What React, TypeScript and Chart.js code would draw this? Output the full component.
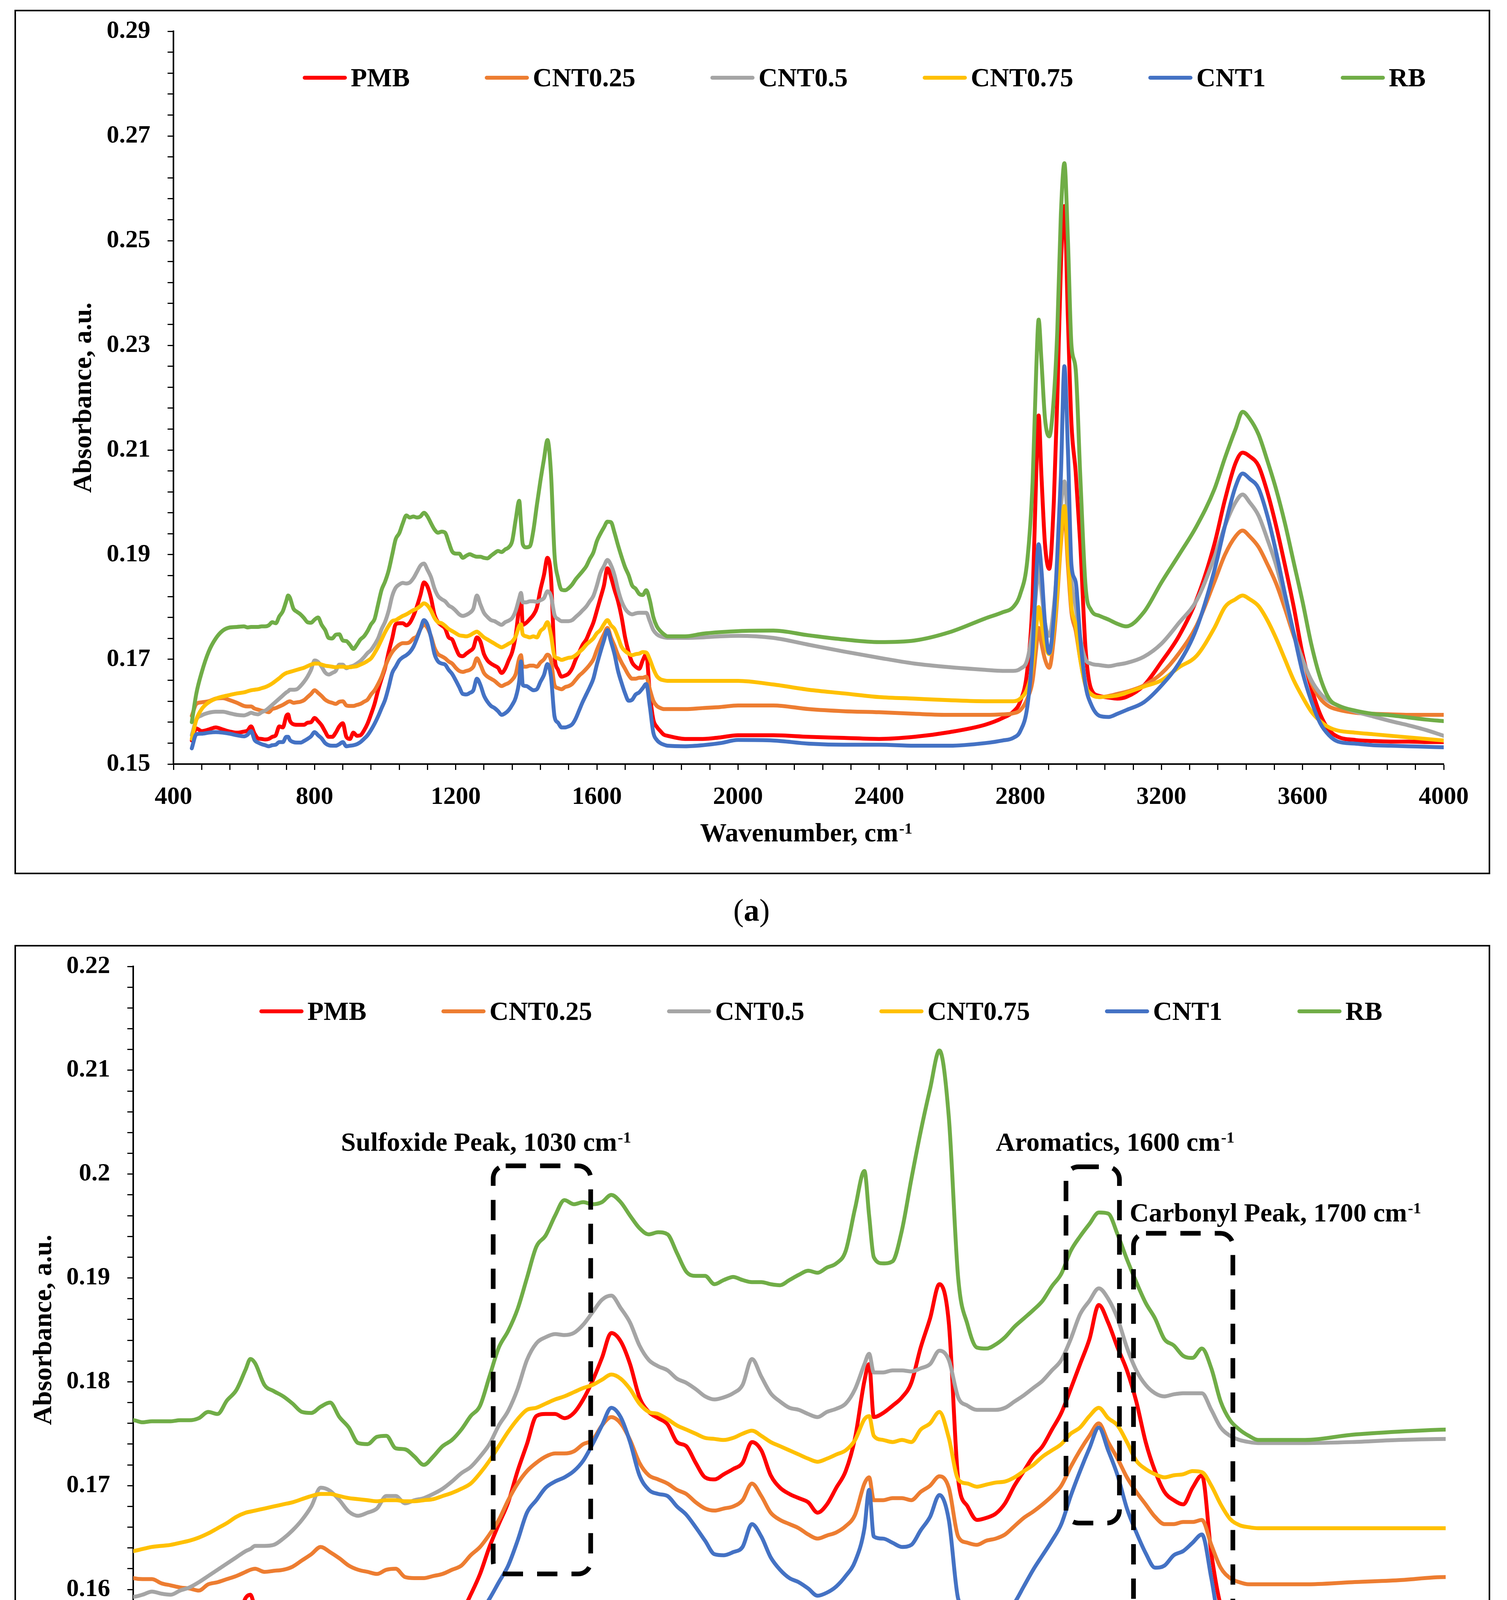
import { useEffect, useRef } from "react";
import { Chart, registerables } from "chart.js";

Chart.register(...registerables);

const SERIF = "'Liberation Serif', 'Times New Roman', serif";

// shared wavenumber grid, cm-1
const wavenumbers = [
  452, 465, 480, 500, 520, 540, 560, 580,
  600, 610, 620, 630, 640, 650, 660, 670, 680, 690,
  700, 710, 720, 725, 730, 740, 750, 760, 770, 780, 790,
  800, 810, 820, 830, 840, 850, 860, 870, 880, 890,
  900, 910, 920, 930, 940, 950, 960, 970, 980, 990,
  1000, 1010, 1020, 1030, 1040, 1050, 1060, 1070, 1080, 1090,
  1100, 1110, 1120, 1130, 1140, 1150, 1160, 1170, 1180, 1190,
  1200, 1210, 1220, 1230, 1240, 1250, 1260, 1270, 1280, 1290,
  1300, 1310, 1320, 1330, 1340, 1350, 1360, 1370, 1380, 1385, 1390,
  1400, 1410, 1420, 1430, 1440, 1450, 1460, 1470, 1480, 1490,
  1500, 1510, 1520, 1530, 1540, 1550, 1560, 1570, 1580, 1590,
  1600, 1610, 1620, 1630, 1640, 1650, 1660, 1670, 1680, 1690,
  1700, 1710, 1720, 1730, 1740, 1750, 1760, 1770, 1780, 1790,
  1800, 1850, 1900, 1950, 2000,
  2100, 2200, 2300, 2400, 2500, 2600, 2700, 2750, 2780,
  2800, 2820, 2835, 2845, 2852, 2860, 2870, 2882, 2895,
  2905, 2915, 2925, 2935, 2945, 2957, 2970, 2985,
  3000, 3025, 3050, 3075, 3100, 3150, 3200, 3250, 3300, 3350, 3380,
  3410, 3430, 3450, 3475, 3500, 3525, 3550, 3575, 3600,
  3625, 3650, 3675, 3700, 3750, 3800, 3850, 3900, 3950, 4000,
];

const pmb = [
  0.1545, 0.1568, 0.1563, 0.1566, 0.1570, 0.1566, 0.1562, 0.1560,
  0.1562, 0.1564, 0.1572, 0.1558, 0.1549, 0.1548, 0.1547, 0.1548, 0.1552, 0.1555,
  0.1572, 0.1570, 0.1592, 0.1595, 0.1583, 0.1576, 0.1575, 0.1575, 0.1575, 0.1579, 0.1580,
  0.1588, 0.1582, 0.1574, 0.1562, 0.1552, 0.1552, 0.1560, 0.1572, 0.1578, 0.1552,
  0.1548, 0.1560, 0.1554, 0.1555, 0.1564, 0.1577, 0.1595, 0.1615, 0.1641, 0.1663,
  0.1684, 0.1714, 0.1740, 0.1767, 0.1769, 0.1769, 0.1765, 0.1770, 0.1783, 0.1801,
  0.1823, 0.1847, 0.1839, 0.1817, 0.1785, 0.1771, 0.1765, 0.1759, 0.1742, 0.1738,
  0.1722, 0.1708, 0.1706, 0.1711, 0.1716, 0.1722, 0.1742, 0.1734, 0.1710, 0.1698,
  0.1692, 0.1688, 0.1684, 0.1674, 0.1682, 0.1698, 0.1714, 0.1746, 0.1801, 0.1817, 0.1766,
  0.1770, 0.1777, 0.1785, 0.1799, 0.1833, 0.1861, 0.1894, 0.1857, 0.1706, 0.1680,
  0.1667, 0.1669, 0.1673, 0.1683, 0.1700, 0.1714, 0.1728, 0.1738, 0.1754, 0.1770,
  0.1793, 0.1817, 0.1841, 0.1874, 0.1857, 0.1833, 0.1811, 0.1781, 0.1742, 0.1714,
  0.1694, 0.1686, 0.1682, 0.1698, 0.1710, 0.1635, 0.1585, 0.1571, 0.1563, 0.1556,
  0.1554, 0.1548, 0.1548, 0.1551, 0.1555,
  0.1555, 0.1552, 0.1550, 0.1548, 0.1552, 0.1561, 0.1575, 0.1588, 0.1600,
  0.1620, 0.1680, 0.1820, 0.2050, 0.2166, 0.2050, 0.1920, 0.1873, 0.2000,
  0.2200, 0.2450, 0.2566, 0.2350, 0.2150, 0.2058, 0.1920, 0.1720,
  0.1645, 0.1630, 0.1627, 0.1625, 0.1628, 0.1650, 0.1695, 0.1745, 0.1815, 0.1920, 0.2005,
  0.2075, 0.2095, 0.2088, 0.2070, 0.2020, 0.1955, 0.1880, 0.1800, 0.1710,
  0.1645, 0.1595, 0.1565, 0.1552, 0.1546, 0.1544, 0.1543, 0.1543, 0.1542, 0.1542,
];

const cnt025 = [
  0.1592, 0.1615, 0.1618, 0.1620, 0.1625, 0.1626, 0.1622, 0.1617,
  0.1611, 0.1610, 0.1610, 0.1606, 0.1604, 0.1602, 0.1601, 0.1599, 0.1605, 0.1607,
  0.1610, 0.1613, 0.1617, 0.1619, 0.1620, 0.1617, 0.1618, 0.1619, 0.1622, 0.1628, 0.1634,
  0.1641, 0.1636, 0.1630, 0.1623, 0.1619, 0.1617, 0.1615, 0.1619, 0.1620, 0.1612,
  0.1611, 0.1611, 0.1613, 0.1615, 0.1619, 0.1623, 0.1633, 0.1641, 0.1653, 0.1667,
  0.1686, 0.1702, 0.1714, 0.1722, 0.1728, 0.1731, 0.1731, 0.1733, 0.1740, 0.1744,
  0.1758, 0.1766, 0.1760, 0.1744, 0.1722, 0.1710, 0.1706, 0.1702, 0.1696, 0.1692,
  0.1684, 0.1678, 0.1676, 0.1678, 0.1680, 0.1686, 0.1702, 0.1690, 0.1674, 0.1667,
  0.1663, 0.1659, 0.1653, 0.1649, 0.1652, 0.1655, 0.1661, 0.1672, 0.1702, 0.1708, 0.1686,
  0.1686, 0.1688, 0.1688, 0.1686, 0.1694, 0.1700, 0.1709, 0.1698, 0.1651, 0.1645,
  0.1643, 0.1647, 0.1649, 0.1653, 0.1661, 0.1669, 0.1675, 0.1682, 0.1690, 0.1700,
  0.1718, 0.1734, 0.1748, 0.1760, 0.1742, 0.1726, 0.1708, 0.1694, 0.1682, 0.1670,
  0.1663, 0.1663, 0.1665, 0.1665, 0.1667, 0.1643, 0.1621, 0.1611, 0.1607, 0.1605,
  0.1605, 0.1605, 0.1607, 0.1609, 0.1612,
  0.1612, 0.1605, 0.1601, 0.1599, 0.1596, 0.1594, 0.1594, 0.1595, 0.1597,
  0.1603, 0.1625, 0.1660, 0.1720, 0.1760, 0.1730, 0.1700, 0.1684, 0.1740,
  0.1820, 0.1920, 0.1980, 0.1880, 0.1790, 0.1755, 0.1700, 0.1650,
  0.1634, 0.1628, 0.1630, 0.1634, 0.1638, 0.1650, 0.1673, 0.1712, 0.1765, 0.1848, 0.1900,
  0.1935, 0.1946, 0.1935, 0.1915, 0.1882, 0.1845, 0.1797, 0.1745, 0.1700,
  0.1655, 0.1625, 0.1610, 0.1604, 0.1598, 0.1596, 0.1595, 0.1594, 0.1594, 0.1594,
];

const cnt05 = [
  0.1555, 0.1585, 0.1593, 0.1598, 0.1600, 0.1600, 0.1597, 0.1594,
  0.1593, 0.1595, 0.1598, 0.1596, 0.1595, 0.1599, 0.1602, 0.1607, 0.1613, 0.1619,
  0.1625, 0.1631, 0.1637, 0.1639, 0.1642, 0.1642, 0.1643, 0.1649, 0.1657, 0.1667, 0.1680,
  0.1698, 0.1695, 0.1686, 0.1675, 0.1671, 0.1674, 0.1678, 0.1690, 0.1690, 0.1683,
  0.1686, 0.1688, 0.1692, 0.1697, 0.1704, 0.1712, 0.1718, 0.1728, 0.1740, 0.1758,
  0.1772, 0.1793, 0.1821, 0.1837, 0.1843, 0.1846, 0.1845, 0.1847, 0.1855, 0.1867,
  0.1879, 0.1883, 0.1871, 0.1857, 0.1835, 0.1821, 0.1815, 0.1811, 0.1803, 0.1799,
  0.1793, 0.1786, 0.1783, 0.1785, 0.1789, 0.1797, 0.1822, 0.1805, 0.1789, 0.1781,
  0.1775, 0.1773, 0.1769, 0.1766, 0.1771, 0.1774, 0.1779, 0.1793, 0.1817, 0.1827, 0.1809,
  0.1809, 0.1811, 0.1811, 0.1810, 0.1813, 0.1817, 0.1830, 0.1821, 0.1785, 0.1777,
  0.1773, 0.1773, 0.1773, 0.1775, 0.1781, 0.1787, 0.1794, 0.1801, 0.1811, 0.1821,
  0.1841, 0.1865, 0.1878, 0.1890, 0.1880, 0.1861, 0.1833, 0.1811, 0.1797, 0.1789,
  0.1786, 0.1788, 0.1789, 0.1789, 0.1789, 0.1773, 0.1756, 0.1748, 0.1744, 0.1742,
  0.1741, 0.1741, 0.1742, 0.1744, 0.1745,
  0.1741, 0.1728, 0.1715, 0.1703, 0.1692, 0.1685, 0.1680, 0.1678, 0.1678,
  0.1682, 0.1700, 0.1760, 0.1830, 0.1880, 0.1830, 0.1770, 0.1745, 0.1800,
  0.1880, 0.1990, 0.2040, 0.1960, 0.1850, 0.1800, 0.1740, 0.1700,
  0.1692, 0.1689, 0.1687, 0.1690, 0.1693, 0.1705, 0.1730, 0.1770, 0.1813, 0.1895, 0.1955,
  0.2000, 0.2015, 0.2000, 0.1975, 0.1930, 0.1880, 0.1815, 0.1750, 0.1700,
  0.1660, 0.1635, 0.1620, 0.1612, 0.1600, 0.1591, 0.1582, 0.1574, 0.1565, 0.1554,
];

const cnt075 = [
  0.1548, 0.1585, 0.1605, 0.1618, 0.1625, 0.1629, 0.1632, 0.1635,
  0.1637, 0.1639, 0.1641, 0.1642, 0.1643, 0.1645, 0.1647, 0.1650, 0.1654, 0.1659,
  0.1664, 0.1670, 0.1674, 0.1675, 0.1676, 0.1678, 0.1680, 0.1682, 0.1684, 0.1687, 0.1690,
  0.1692, 0.1692, 0.1690, 0.1688, 0.1687, 0.1686, 0.1685, 0.1686, 0.1686, 0.1685,
  0.1685, 0.1686, 0.1687, 0.1690, 0.1693, 0.1697, 0.1702, 0.1712, 0.1724, 0.1738,
  0.1752, 0.1764, 0.1773, 0.1775, 0.1779, 0.1783, 0.1786, 0.1790, 0.1794, 0.1797,
  0.1802, 0.1807, 0.1803, 0.1793, 0.1779, 0.1771, 0.1769, 0.1764, 0.1758, 0.1754,
  0.1750, 0.1746, 0.1745, 0.1744, 0.1746, 0.1750, 0.1753, 0.1748, 0.1742, 0.1738,
  0.1734, 0.1730, 0.1726, 0.1723, 0.1726, 0.1730, 0.1734, 0.1744, 0.1764, 0.1767, 0.1748,
  0.1744, 0.1742, 0.1744, 0.1742, 0.1754, 0.1760, 0.1771, 0.1746, 0.1706, 0.1702,
  0.1699, 0.1701, 0.1703, 0.1704, 0.1708, 0.1714, 0.1720, 0.1728, 0.1734, 0.1740,
  0.1750, 0.1756, 0.1767, 0.1775, 0.1765, 0.1758, 0.1742, 0.1724, 0.1716, 0.1711,
  0.1708, 0.1710, 0.1711, 0.1714, 0.1713, 0.1700, 0.1682, 0.1668, 0.1662, 0.1660,
  0.1659, 0.1659, 0.1659, 0.1659, 0.1659,
  0.1652, 0.1642, 0.1635, 0.1628, 0.1625, 0.1622, 0.1620, 0.1620, 0.1620,
  0.1625, 0.1645, 0.1690, 0.1760, 0.1800, 0.1770, 0.1730, 0.1710, 0.1760,
  0.1830, 0.1930, 0.1993, 0.1900, 0.1800, 0.1765, 0.1700, 0.1650,
  0.1634, 0.1628, 0.1629, 0.1631, 0.1636, 0.1648, 0.1660, 0.1685, 0.1707, 0.1760, 0.1800,
  0.1815, 0.1822, 0.1815, 0.1802, 0.1775, 0.1740, 0.1700, 0.1660, 0.1628,
  0.1600, 0.1582, 0.1570, 0.1564, 0.1560, 0.1557, 0.1554, 0.1551, 0.1548, 0.1545,
];

const cnt1 = [
  0.1530, 0.1557, 0.1558, 0.1560, 0.1561, 0.1560, 0.1558, 0.1555,
  0.1553, 0.1556, 0.1563, 0.1546, 0.1541, 0.1538, 0.1536, 0.1534, 0.1536, 0.1537,
  0.1542, 0.1542, 0.1552, 0.1552, 0.1546, 0.1542, 0.1541, 0.1541, 0.1544, 0.1548, 0.1553,
  0.1561, 0.1555, 0.1549, 0.1540, 0.1536, 0.1535, 0.1535, 0.1538, 0.1542, 0.1534,
  0.1535, 0.1536, 0.1538, 0.1542, 0.1548, 0.1555, 0.1565, 0.1577, 0.1591, 0.1607,
  0.1623, 0.1647, 0.1674, 0.1686, 0.1698, 0.1704, 0.1708, 0.1714, 0.1724, 0.1740,
  0.1758, 0.1775, 0.1766, 0.1742, 0.1710, 0.1696, 0.1692, 0.1690, 0.1680, 0.1672,
  0.1660, 0.1647, 0.1634, 0.1633, 0.1636, 0.1641, 0.1663, 0.1651, 0.1631, 0.1619,
  0.1611, 0.1607, 0.1601, 0.1594, 0.1597, 0.1603, 0.1613, 0.1627, 0.1659, 0.1696, 0.1651,
  0.1649, 0.1645, 0.1641, 0.1643, 0.1657, 0.1670, 0.1691, 0.1667, 0.1591, 0.1579,
  0.1570, 0.1570, 0.1572, 0.1576, 0.1587, 0.1603, 0.1619, 0.1633, 0.1647, 0.1663,
  0.1690, 0.1714, 0.1736, 0.1756, 0.1734, 0.1710, 0.1678, 0.1655, 0.1635, 0.1621,
  0.1623, 0.1633, 0.1637, 0.1645, 0.1653, 0.1611, 0.1560, 0.1546, 0.1540, 0.1537,
  0.1535, 0.1534, 0.1536, 0.1540, 0.1546,
  0.1545, 0.1539, 0.1537, 0.1537, 0.1535, 0.1535, 0.1540, 0.1545, 0.1550,
  0.1563, 0.1610, 0.1720, 0.1860, 0.1920, 0.1870, 0.1770, 0.1712, 0.1780,
  0.1900, 0.2050, 0.2260, 0.2100, 0.1880, 0.1848, 0.1740, 0.1650,
  0.1615, 0.1592, 0.1590, 0.1596, 0.1603, 0.1618, 0.1650, 0.1693, 0.1760, 0.1870, 0.1955,
  0.2030, 0.2055, 0.2045, 0.2027, 0.1975, 0.1905, 0.1825, 0.1750, 0.1675,
  0.1620, 0.1578, 0.1555, 0.1543, 0.1539, 0.1536, 0.1535, 0.1534, 0.1533, 0.1532,
];

const rb = [
  0.1580, 0.1635, 0.1675, 0.1715, 0.1740, 0.1755, 0.1761, 0.1762,
  0.1763, 0.1761, 0.1762, 0.1762, 0.1762, 0.1763, 0.1763, 0.1765, 0.1771, 0.1769,
  0.1782, 0.1792, 0.1812, 0.1822, 0.1818, 0.1797, 0.1791, 0.1786, 0.1779, 0.1771, 0.1770,
  0.1776, 0.1780, 0.1766, 0.1756, 0.1741, 0.1740, 0.1747, 0.1748, 0.1736, 0.1735,
  0.1728, 0.1720, 0.1728, 0.1738, 0.1744, 0.1754, 0.1767, 0.1777, 0.1805, 0.1833,
  0.1849, 0.1870, 0.1900, 0.1930, 0.1941, 0.1960, 0.1975, 0.1971, 0.1973, 0.1971,
  0.1973, 0.1980, 0.1973, 0.1960, 0.1948, 0.1942, 0.1944, 0.1942, 0.1924, 0.1906,
  0.1902, 0.1902, 0.1894, 0.1898, 0.1901, 0.1898, 0.1896, 0.1896, 0.1894, 0.1893,
  0.1898, 0.1903, 0.1907, 0.1905, 0.1910, 0.1914, 0.1926, 0.1967, 0.2003, 0.1960, 0.1920,
  0.1914, 0.1916, 0.1946, 0.1995, 0.2041, 0.2082, 0.2119, 0.2055, 0.1900, 0.1855,
  0.1833, 0.1832, 0.1836, 0.1843, 0.1853, 0.1861, 0.1869, 0.1878, 0.1892, 0.1904,
  0.1926, 0.1940, 0.1952, 0.1963, 0.1962, 0.1942, 0.1918, 0.1896, 0.1876, 0.1861,
  0.1841, 0.1835, 0.1825, 0.1823, 0.1832, 0.1813, 0.1781, 0.1763, 0.1754, 0.1748,
  0.1744, 0.1744, 0.1749, 0.1752, 0.1754,
  0.1755, 0.1746, 0.1738, 0.1733, 0.1736, 0.1752, 0.1778, 0.1790, 0.1800,
  0.1825, 0.1890, 0.2040, 0.2250, 0.2349, 0.2270, 0.2160, 0.2126, 0.2200,
  0.2330, 0.2550, 0.2648, 0.2500, 0.2300, 0.2254, 0.2050, 0.1840,
  0.1795, 0.1783, 0.1776, 0.1768, 0.1763, 0.1790, 0.1847, 0.1900, 0.1955, 0.2025, 0.2085,
  0.2140, 0.2173, 0.2160, 0.2130, 0.2080, 0.2025, 0.1960, 0.1885, 0.1810,
  0.1728, 0.1665, 0.1625, 0.1612, 0.1602, 0.1596, 0.1593, 0.1589, 0.1585, 0.1582,
];

const seriesNames = ["PMB", "CNT0.25", "CNT0.5", "CNT0.75", "CNT1", "RB"];
const seriesColors = ["#FF0000", "#ED7D31", "#A5A5A5", "#FFC000", "#4472C4", "#70AD47"];
const seriesValues = [pmb, cnt025, cnt05, cnt075, cnt1, rb];

interface PeakNote {
  text: string;
  x0: number;
  x1: number;
  y0: number;
  y1: number;
  tx: number;
  ty: number;
}

// dashed boxes of panel (b), in data units
const peakNotes: PeakNote[] = [
  { text: "Sulfoxide Peak, 1030 cm", x0: 984, x1: 1088, y0: 0.1615, y1: 0.2008, tx: 976, ty: 0.2031 },
  { text: "Aromatics, 1600 cm", x0: 1595, x1: 1652, y0: 0.1664, y1: 0.2007, tx: 1647, ty: 0.2031 },
  { text: "Carbonyl Peak, 1700 cm", x0: 1667, x1: 1773, y0: 0.1551, y1: 0.1943, tx: 1818, ty: 0.1963 },
];

function drawSupText(
  ctx: CanvasRenderingContext2D,
  main: string,
  sup: string,
  cx: number,
  cy: number,
  size: number
) {
  const supSize = Math.round(size * 0.6);
  ctx.font = `bold ${size}px ${SERIF}`;
  const wMain = ctx.measureText(main).width;
  ctx.font = `bold ${supSize}px ${SERIF}`;
  const wSup = ctx.measureText(sup).width;
  const left = cx - (wMain + wSup) / 2;
  const base = cy + size * 0.33;
  ctx.textAlign = "left";
  ctx.textBaseline = "alphabetic";
  ctx.fillStyle = "#000";
  ctx.font = `bold ${size}px ${SERIF}`;
  ctx.fillText(main, left, base);
  ctx.font = `bold ${supSize}px ${SERIF}`;
  ctx.fillText(sup, left + wMain + 2, base - size * 0.3);
}

function roundRectPath(ctx: CanvasRenderingContext2D, x: number, y: number, w: number, h: number, r: number) {
  ctx.beginPath();
  ctx.moveTo(x + r, y);
  ctx.lineTo(x + w - r, y);
  ctx.arcTo(x + w, y, x + w, y + r, r);
  ctx.lineTo(x + w, y + h - r);
  ctx.arcTo(x + w, y + h, x + w - r, y + h, r);
  ctx.lineTo(x + r, y + h);
  ctx.arcTo(x, y + h, x, y + h - r, r);
  ctx.lineTo(x, y + r);
  ctx.arcTo(x, y, x + r, y, r);
  ctx.closePath();
}

interface PanelProps {
  left: number;
  top: number;
  width: number;
  height: number;
  xMin: number;
  xMax: number;
  xStep: number;
  xLabelStep: number;
  yMax: number;
  yStep: number;
  yLabelMilli: number;
  padTop: number;
  padRight: number;
  yAxisWidth: number;
  xAxisHeight: number;
  legendDx: number;
  legendDy: number;
  yTitleX: number;
  xTitleDy: number;
  notes?: PeakNote[];
}

function SpectrumPanel(props: PanelProps) {
  const canvasRef = useRef<HTMLCanvasElement>(null);
  const chartRef = useRef<Chart | null>(null);

  useEffect(() => {
    if (!canvasRef.current) return;
    if (chartRef.current) chartRef.current.destroy();

    const decor = {
      id: "decor",
      afterDraw(chart: Chart) {
        const { ctx, chartArea: a } = chart;
        const xs = chart.scales.x;
        const ys = chart.scales.y;
        ctx.save();

        // legend inside the plot
        let lx = a.left + props.legendDx;
        const ly = a.top + props.legendDy;
        seriesNames.forEach((name, i) => {
          ctx.strokeStyle = seriesColors[i];
          ctx.lineWidth = 10;
          ctx.lineCap = "round";
          ctx.setLineDash([]);
          ctx.beginPath();
          ctx.moveTo(lx + 5, ly);
          ctx.lineTo(lx + 108, ly);
          ctx.stroke();
          ctx.font = `bold 68px ${SERIF}`;
          ctx.fillStyle = "#000";
          ctx.textAlign = "left";
          ctx.textBaseline = "alphabetic";
          ctx.fillText(name, lx + 123, ly + 22);
          lx += 123 + ctx.measureText(name).width + 192;
        });

        // axis titles
        ctx.save();
        ctx.translate(props.yTitleX, (a.top + a.bottom) / 2);
        ctx.rotate(-Math.PI / 2);
        ctx.font = `bold 68px ${SERIF}`;
        ctx.fillStyle = "#000";
        ctx.textAlign = "center";
        ctx.textBaseline = "middle";
        ctx.fillText("Absorbance, a.u.", 0, 0);
        ctx.restore();
        drawSupText(ctx, "Wavenumber, cm", "-1", (a.left + a.right) / 2 - 7, a.bottom + props.xTitleDy, 68);

        // peak boxes
        (props.notes || []).forEach((n) => {
          const l = xs.getPixelForValue(n.x0);
          const r = xs.getPixelForValue(n.x1);
          const t = ys.getPixelForValue(n.y1);
          const b = ys.getPixelForValue(n.y0);
          ctx.strokeStyle = "#000";
          ctx.lineWidth = 12;
          ctx.lineCap = "butt";
          ctx.setLineDash([52, 36]);
          roundRectPath(ctx, l, t, r - l, b - t, 32);
          ctx.stroke();
          ctx.setLineDash([]);
          drawSupText(ctx, n.text, "-1", xs.getPixelForValue(n.tx), ys.getPixelForValue(n.ty), 68);
        });

        ctx.restore();
      },
    };

    const tickFont = { family: SERIF, size: 64, weight: "bold" as const };

    chartRef.current = new Chart(canvasRef.current, {
      type: "line",
      data: {
        datasets: seriesNames.map((name, i) => ({
          label: name,
          data: wavenumbers.map((w, j) => ({ x: w, y: seriesValues[i][j] })),
          borderColor: seriesColors[i],
          backgroundColor: seriesColors[i],
          borderWidth: 10,
          pointRadius: 0,
          borderCapStyle: "round" as const,
          borderJoinStyle: "round" as const,
          cubicInterpolationMode: "monotone" as const,
          order: seriesNames.length - 1 - i,
          clip: 0,
        })),
      },
      options: {
        responsive: false,
        animation: false,
        devicePixelRatio: 1,
        events: [],
        layout: { padding: { top: props.padTop, right: props.padRight, left: 0, bottom: 0 } },
        plugins: {
          legend: { display: false },
          tooltip: { enabled: false },
        },
        scales: {
          x: {
            type: "linear",
            min: props.xMin,
            max: props.xMax,
            afterFit: (s) => {
              s.height = props.xAxisHeight;
              s.paddingLeft = 0;
              s.paddingRight = 0;
            },
            grid: {
              drawOnChartArea: false,
              drawTicks: true,
              tickLength: 15,
              tickWidth: 3,
              tickColor: "#000",
            },
            border: { display: true, color: "#000", width: 4 },
            ticks: {
              stepSize: props.xStep,
              maxTicksLimit: 1000,
              autoSkip: false,
              maxRotation: 0,
              padding: 32,
              color: "#000",
              font: tickFont,
              callback: (v) => (Math.round(Number(v)) % props.xLabelStep === 0 ? String(Math.round(Number(v))) : ""),
            },
          },
          y: {
            type: "linear",
            min: 0.15,
            max: props.yMax,
            afterFit: (s) => {
              s.width = props.yAxisWidth;
              s.paddingTop = 0;
              s.paddingBottom = 0;
            },
            grid: {
              drawOnChartArea: false,
              drawTicks: true,
              tickLength: 15,
              tickWidth: 3,
              tickColor: "#000",
            },
            border: { display: true, color: "#000", width: 4 },
            ticks: {
              stepSize: props.yStep,
              maxTicksLimit: 1000,
              autoSkip: false,
              padding: 44,
              color: "#000",
              font: tickFont,
              callback: (v) => {
                const m = Math.round(Number(v) * 1000);
                return (m - 150) % props.yLabelMilli === 0 ? String(Number((m / 1000).toFixed(2))) : "";
              },
            },
          },
        },
      },
      plugins: [decor],
    });

    return () => {
      if (chartRef.current) {
        chartRef.current.destroy();
        chartRef.current = null;
      }
    };
  }, [props]);

  return (
    <>
      <canvas
        ref={canvasRef}
        width={props.width}
        height={props.height}
        style={{ position: "absolute", left: props.left, top: props.top, width: props.width, height: props.height }}
      />
      <div
        style={{
          position: "absolute",
          left: props.left,
          top: props.top,
          width: props.width,
          height: props.height,
          border: "4px solid #000",
          boxSizing: "border-box",
          pointerEvents: "none",
        }}
      />
    </>
  );
}

const panelA: PanelProps = {
  left: 37,
  top: 25,
  width: 3778,
  height: 2213,
  xMin: 400,
  xMax: 4000,
  xStep: 80,
  xLabelStep: 400,
  yMax: 0.29,
  yStep: 0.004,
  yLabelMilli: 20,
  padTop: 55,
  padRight: 119,
  yAxisWidth: 407,
  xAxisHeight: 282,
  legendDx: 331,
  legendDy: 119,
  yTitleX: 178,
  xTitleDy: 176,
};

const panelB: PanelProps = {
  left: 37,
  top: 2419,
  width: 3778,
  height: 2195,
  xMin: 600,
  xMax: 2000,
  xStep: 40,
  xLabelStep: 200,
  yMax: 0.22,
  yStep: 0.002,
  yLabelMilli: 10,
  padTop: 55,
  padRight: 114,
  yAxisWidth: 304,
  xAxisHeight: 279,
  legendDx: 323,
  legendDy: 115,
  yTitleX: 76,
  xTitleDy: 179,
  notes: peakNotes,
};

function PanelLabel({ letter, cy }: { letter: string; cy: number }) {
  return (
    <div
      style={{
        position: "absolute",
        left: 1824,
        top: cy - 45,
        width: 200,
        height: 90,
        lineHeight: "90px",
        textAlign: "center",
        fontFamily: SERIF,
        fontSize: 80,
        color: "#000",
      }}
    >
      (<b>{letter}</b>)
    </div>
  );
}

export default function App() {
  return (
    <div
      style={{
        position: "absolute",
        left: 0,
        top: 0,
        width: 3858,
        height: 4779,
        background: "#fff",
        overflow: "hidden",
      }}
    >
      <SpectrumPanel {...panelA} />
      <PanelLabel letter="a" cy={2330} />
      <SpectrumPanel {...panelB} />
      <PanelLabel letter="b" cy={4718} />
    </div>
  );
}
